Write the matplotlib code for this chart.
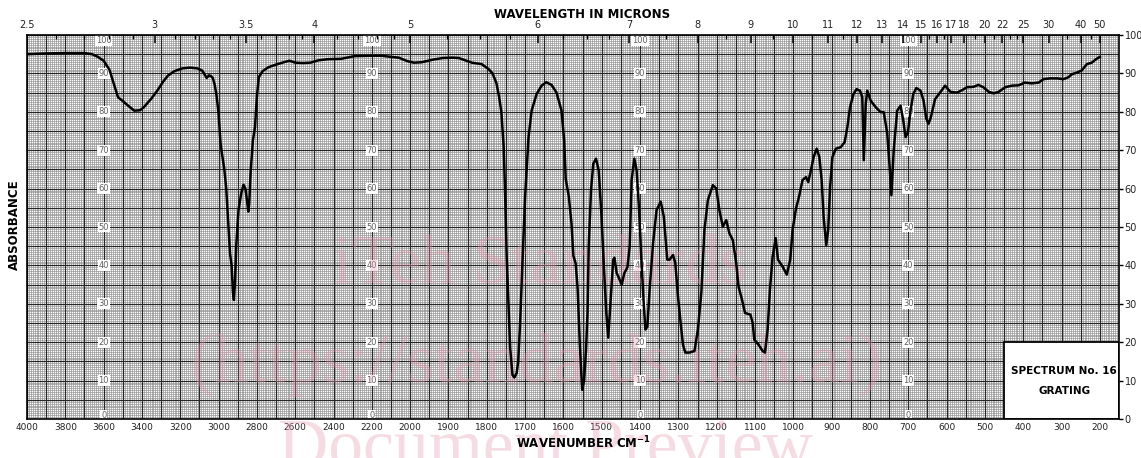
import matplotlib.pyplot as plt
import numpy as np
from matplotlib.patches import Rectangle

# IR spectrum (cm-1, absorbance scale 0-100)
wavenumber = [4000, 3900, 3800, 3700, 3660, 3630, 3600, 3570, 3545, 3525, 3500, 3470, 3440,
              3410, 3390, 3350, 3320, 3290, 3265, 3230, 3190, 3150, 3110, 3085, 3070, 3062,
              3050, 3040, 3030, 3020, 3010, 3000, 2990, 2985, 2970, 2960, 2952, 2940, 2932,
              2925, 2920, 2914, 2908, 2896, 2882, 2870, 2860, 2852, 2845, 2840, 2833, 2821,
              2810, 2800, 2790, 2770, 2740, 2700, 2660, 2630, 2600, 2560, 2520, 2480, 2430,
              2360, 2290, 2200, 2150, 2100, 2060, 2020, 2000, 1990, 1970, 1940, 1915, 1890,
              1873, 1856, 1839, 1813, 1795, 1785, 1775, 1768, 1762, 1756, 1752, 1748, 1743,
              1739, 1733, 1728, 1722, 1718, 1713, 1707, 1700, 1691, 1683, 1670, 1657, 1645,
              1631, 1618, 1605, 1598, 1594, 1586, 1579, 1574, 1568, 1563, 1557, 1551, 1546,
              1541, 1537, 1534, 1528, 1522, 1515, 1508, 1501, 1494, 1488, 1483, 1476, 1470,
              1467, 1461, 1455, 1448, 1441, 1433, 1427, 1422, 1415, 1409, 1403, 1396, 1390,
              1386, 1381, 1375, 1366, 1357, 1346, 1338, 1329, 1323, 1314, 1308, 1301, 1294,
              1288, 1282, 1271, 1258, 1249, 1240, 1232, 1223, 1210, 1201, 1193, 1184, 1175,
              1167, 1158, 1149, 1143, 1134, 1126, 1112, 1106, 1102, 1091, 1080, 1074, 1067,
              1061, 1054, 1046, 1040, 1028, 1017, 1008, 1002, 993, 985, 976, 967, 961, 954,
              947, 939, 932, 926, 921, 914, 909, 904, 898, 889, 876, 866, 859, 852, 843, 835,
              826, 820, 816, 811, 807, 798, 785, 772, 764, 755, 748, 744, 738, 729, 720, 713,
              707, 701, 694, 687, 679, 668, 660, 653, 647, 641, 630, 617, 604, 590, 573, 560,
              547, 530, 517, 504, 490, 477, 464, 447, 430, 412, 396, 378, 360, 347, 330, 312,
              295, 282, 273, 260, 247, 234, 221, 210, 200]
absorbance = [95.0, 95.2, 95.3, 95.3, 95.0, 94.3, 93.3, 91.0, 87.0, 83.8, 82.8, 81.5, 80.3,
              80.4, 81.2, 83.5, 85.5, 87.8, 89.4, 90.6, 91.3, 91.5, 91.3, 90.7, 89.5, 88.8,
              89.5, 89.3, 88.8, 87.0, 84.0, 79.5, 72.0, 70.0, 65.0, 60.0, 53.0, 43.0, 40.0,
              33.0, 31.0, 36.0, 45.0, 54.4, 58.7, 61.0, 60.0, 57.0, 54.0, 56.0, 64.0, 72.5,
              76.0, 84.0, 89.0, 90.6, 91.6, 92.3, 92.9, 93.3, 92.8, 92.7, 92.8, 93.4, 93.7,
              93.8, 94.5, 94.6, 94.6, 94.3, 94.1, 93.3, 93.0, 92.8, 92.9, 93.6, 94.0, 94.1,
              94.0, 93.4, 92.8, 92.4, 91.1, 90.0, 87.5, 84.0, 80.0, 71.0, 58.0, 42.0, 29.0,
              18.5, 11.5, 10.8, 12.0, 15.0, 25.0, 40.6, 57.9, 73.4, 80.3, 84.6, 86.8, 87.7,
              87.0, 85.0, 80.3, 72.5, 62.5, 58.0, 51.0, 42.5, 40.5, 34.0, 19.0, 7.6, 10.0,
              18.0, 27.7, 44.9, 59.6, 66.5, 67.8, 64.8, 53.5, 39.0, 27.6, 21.2, 32.0, 41.5,
              42.0, 38.0, 36.7, 35.0, 38.0, 39.5, 45.0, 62.2, 67.8, 64.8, 55.3, 40.6, 29.4,
              23.3, 24.0, 33.7, 45.8, 54.4, 56.6, 52.7, 41.5, 41.5, 42.7, 40.6, 31.9, 25.0,
              19.4, 17.3, 17.3, 17.7, 23.3, 33.0, 49.2, 57.0, 60.9, 60.0, 54.4, 50.1, 51.8,
              48.4, 46.6, 40.6, 34.5, 31.1, 27.6, 27.2, 25.0, 20.7, 19.4, 17.7, 17.3, 23.3,
              33.7, 42.3, 47.1, 41.5, 39.7, 37.6, 41.5, 49.2, 54.8, 57.9, 62.2, 63.0, 61.7, 64.8,
              68.2, 70.4, 68.2, 62.2, 52.7, 45.3, 49.2, 60.4, 68.2, 70.4, 70.8, 72.1, 76.0, 81.2,
              84.6, 85.9, 85.5, 83.8, 67.4, 82.0, 85.5, 82.9, 81.2, 79.9, 79.9, 74.5, 64.8,
              58.3, 69.9, 80.3, 81.6, 77.7, 73.4, 74.6, 80.3, 84.6, 86.2, 85.5, 82.9, 78.2,
              76.9, 78.6, 83.3, 85.0, 86.8, 85.2, 85.0, 85.6, 86.4, 86.5, 87.0, 86.4, 85.2,
              84.8, 85.2, 86.4, 86.8, 86.9, 87.6, 87.4, 87.6, 88.5, 88.7, 88.7, 88.5, 89.0,
              89.8, 90.2, 90.8, 92.4, 92.8, 93.7, 94.3]

bottom_ticks = [4000, 3800, 3600, 3400, 3200, 3000, 2800, 2600, 2400, 2200, 2000, 1900,
                1800, 1700, 1600, 1500, 1400, 1300, 1200, 1100, 1000, 900, 800, 700, 600,
                500, 400, 300, 200]
micron_labels = [2.5, 3, 3.5, 4, 5, 6, 7, 8, 9, 10, 11, 12, 13, 14, 15, 16, 17, 18, 20, 22,
                 25, 30, 40, 50]
micron_minor = [2.6, 2.7, 2.8, 2.9, 3.1, 3.2, 3.3, 3.4, 3.6, 3.7, 3.8, 3.9, 4.2, 4.4, 4.6,
                4.8, 5.25, 5.5, 5.75, 6.25, 6.5, 6.75, 7.5, 8.5, 9.5, 10.5, 11.5, 15.5, 16.5,
                19, 21, 23, 24, 35, 45]
right_ticks = list(range(0, 101, 10))
inner_label_cols = [3600, 2200, 1400, 700]


def fwd(w):
    # chart paper is compressed 2:1 above 2000 cm-1
    w = np.asarray(w, dtype=float)
    return np.where(w < 2000, w, 2000 + (w - 2000) / 2)


def inv(u):
    u = np.asarray(u, dtype=float)
    return np.where(u < 2000, u, 2000 + (u - 2000) * 2)


plt.rcParams['font.family'] = ['DejaVu Sans']

fig = plt.figure(figsize=(11.41, 4.58), dpi=100)
ax = fig.add_axes([27 / 1141, 39 / 458, 1092 / 1141, 384 / 458])
ax.set_xscale('function', functions=(fwd, inv))
ax.set_xlim(4000, 150)
ax.set_ylim(0, 100)

# graph paper grid
xt = ax.get_xaxis_transform()
yt = ax.get_yaxis_transform()
fine_x = np.concatenate([np.arange(2000, 4001, 10), np.arange(150, 2000, 5)])
major_x = np.concatenate([np.arange(2000, 4001, 100), np.arange(150, 2000, 50)])
ax.vlines(fine_x, 0, 1, transform=xt, color='#8c8c8c', lw=0.45, zorder=1)
ax.hlines(np.arange(0, 100.1, 0.5), 0, 1, transform=yt, color='#8c8c8c', lw=0.45, zorder=1)
ax.vlines(major_x, 0, 1, transform=xt, color='#262626', lw=0.85, zorder=2)
ax.hlines(np.arange(0, 101, 5), 0, 1, transform=yt, color='#262626', lw=0.85, zorder=2)

# inner scale columns
for col in inner_label_cols:
    for v in right_ticks:
        yy = 98.6 if v == 100 else (0.9 if v == 0 else v)
        ax.text(col, yy, str(v), ha='center', va='center', fontsize=6, color='#606060',
                bbox=dict(boxstyle='square,pad=0.1', fc='white', ec='none'), zorder=3)

# watermark
wm = dict(ha='center', va='center', family='Liberation Serif', fontsize=50,
          color='#e59aae', alpha=0.35, transform=fig.transFigure, zorder=3.5, clip_on=False)
ax.text(540 / 1141, 1 - 266 / 458, 'iTeh Standards', **wm)
ax.text(537 / 1141, 1 - 365 / 458, '(https://standards.iteh.ai)', **wm)
ax.text(545 / 1141, 1 - 450 / 458, 'Document Preview', **wm)

ax.plot(wavenumber, absorbance, color='black', lw=1.8, zorder=4, solid_joinstyle='round')

# spectrum label box
ax.add_patch(Rectangle((150, 0), 300, 20, facecolor='white', edgecolor='black', lw=1.3,
                       zorder=5))
ax.text(293, 12.6, 'SPECTRUM No. 16', ha='center', va='center', fontsize=7.5,
        fontweight='bold', zorder=6)
ax.text(293, 7.3, 'GRATING', ha='center', va='center', fontsize=7.5, fontweight='bold',
        zorder=6)

# top micron scale
for lam in micron_labels:
    ax.vlines(10000 / lam, 0.98, 1, transform=xt, color='black', lw=1.1, zorder=6)
    ax.text(10000 / lam, 1.012, f'{lam:g}', transform=xt, ha='center', va='bottom',
            fontsize=7, color='#222222')
ax.vlines([10000 / m for m in micron_minor], 0.99, 1, transform=xt, color='black', lw=0.9,
          zorder=6)

ax.set_xticks(bottom_ticks)
ax.set_xticklabels([str(t) for t in bottom_ticks])
ax.tick_params(axis='x', length=0, pad=3, labelsize=6.5, labelcolor='#222222')
ax.minorticks_off()
ax.yaxis.tick_right()
ax.set_yticks(right_ticks)
ax.tick_params(axis='y', length=3, width=1, pad=1, labelsize=7, labelcolor='#222222')
for s in ax.spines.values():
    s.set_linewidth(1.2)
    s.set_zorder(7)

fig.text(582 / 1141, 1 - 14 / 458, 'WAVELENGTH IN MICRONS', ha='center', va='center',
         fontsize=8.5, fontweight='bold')
fig.text(583 / 1141, 1 - 443 / 458, r'WAVENUMBER CM$^{\mathbf{-1}}$', ha='center',
         va='center', fontsize=8.5, fontweight='bold')
fig.text(14 / 1141, 1 - 225 / 458, 'ABSORBANCE', ha='center', va='center', rotation=90,
         fontsize=8.5, fontweight='bold')

fig.savefig('out.png', dpi=100)
